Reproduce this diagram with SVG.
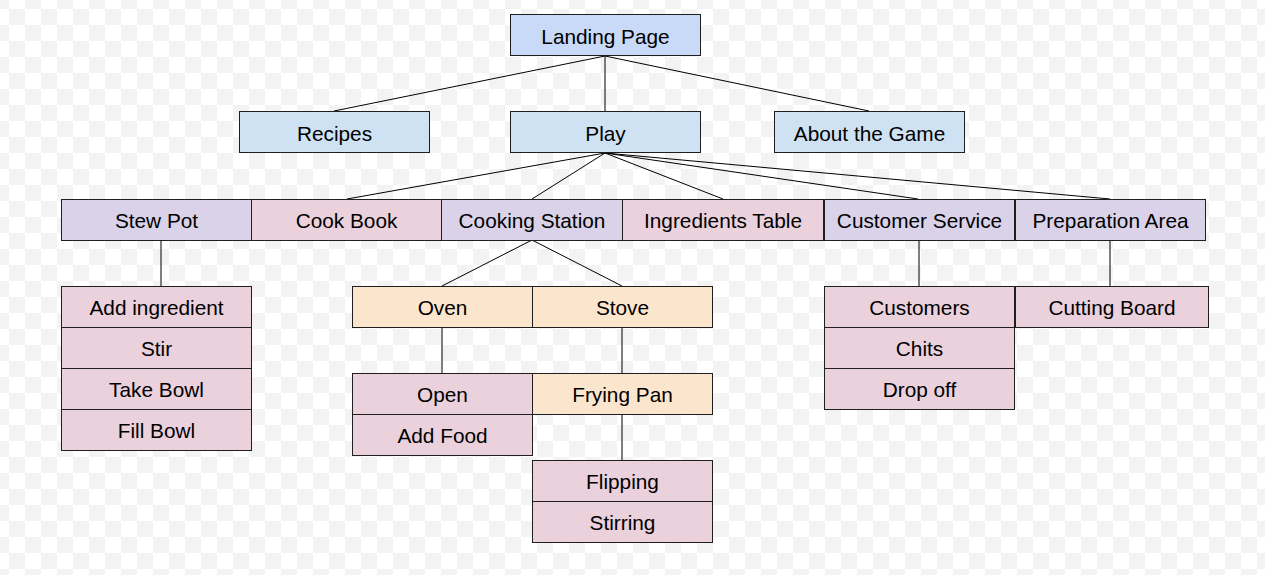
<svg xmlns="http://www.w3.org/2000/svg" width="1265" height="575" viewBox="0 0 1265 575">
<defs>
<pattern id="chk" x="9" y="9" width="32" height="32" patternUnits="userSpaceOnUse">
<rect x="0" y="0" width="32" height="32" fill="#ffffff"/>
<rect x="0" y="0" width="16" height="16" fill="#f3f3f3"/>
<rect x="16" y="16" width="16" height="16" fill="#f3f3f3"/>
</pattern>
</defs>
<style>
.n rect{stroke:#1f1f1f;stroke-width:1}
.n text{font-family:"Liberation Sans",Arial,sans-serif;font-size:20.8px;fill:#000;text-anchor:middle;dominant-baseline:central}
.b1{fill:#c9daf8}.b2{fill:#cfe2f3}.pu{fill:#d9d2e9}.pk{fill:#ead1dc}.or{fill:#fce5cd}
#edges line{stroke:#000;stroke-width:1}
</style>
<rect width="1265" height="575" fill="url(#chk)"/>
<g id="edges">
<line x1="605" y1="56" x2="334" y2="111"/>
<line x1="605" y1="56" x2="605" y2="111"/>
<line x1="605" y1="56" x2="869" y2="111"/>
<line x1="605" y1="153" x2="347" y2="199"/>
<line x1="605" y1="153" x2="532" y2="199"/>
<line x1="605" y1="153" x2="723" y2="199"/>
<line x1="605" y1="153" x2="918" y2="199"/>
<line x1="605" y1="153" x2="1110" y2="199"/>
<line x1="161" y1="240" x2="161" y2="286"/>
<line x1="532" y1="240" x2="442" y2="286"/>
<line x1="532" y1="240" x2="622" y2="286"/>
<line x1="442" y1="327" x2="442" y2="373"/>
<line x1="622" y1="327" x2="622" y2="373"/>
<line x1="622" y1="414" x2="622" y2="460"/>
<line x1="919" y1="240" x2="919" y2="286"/>
<line x1="1110" y1="240" x2="1110" y2="286"/>
</g>
<g id="landing" class="n"><rect class="b1" x="510.5" y="14.5" width="190" height="41"/><text x="605.5" y="36">Landing Page</text></g>
<g id="recipes" class="n"><rect class="b2" x="239.5" y="111.5" width="190" height="41"/><text x="334.5" y="133">Recipes</text></g>
<g id="play" class="n"><rect class="b2" x="510.5" y="111.5" width="190" height="41"/><text x="605.5" y="133">Play</text></g>
<g id="about" class="n"><rect class="b2" x="774.5" y="111.5" width="190" height="41"/><text x="869.5" y="133">About the Game</text></g>
<g id="stewpot" class="n"><rect class="pu" x="61.5" y="199.5" width="190" height="41"/><text x="156.5" y="220">Stew Pot</text></g>
<g id="cookbook" class="n"><rect class="pk" x="251.5" y="199.5" width="190" height="41"/><text x="346.5" y="220">Cook Book</text></g>
<g id="cookingstation" class="n"><rect class="pu" x="441.5" y="199.5" width="181" height="41"/><text x="532" y="220">Cooking Station</text></g>
<g id="ingredients" class="n"><rect class="pk" x="622.5" y="199.5" width="201" height="41"/><text x="723" y="220">Ingredients Table</text></g>
<g id="customerservice" class="n"><rect class="pu" x="824.5" y="199.5" width="190" height="41"/><text x="919.5" y="220">Customer Service</text></g>
<g id="preparation" class="n"><rect class="pu" x="1015.5" y="199.5" width="190" height="41"/><text x="1110.5" y="220">Preparation Area</text></g>
<g id="addingredient" class="n"><rect class="pk" x="61.5" y="286.5" width="190" height="41"/><text x="156.5" y="307">Add ingredient</text></g>
<g id="stir" class="n"><rect class="pk" x="61.5" y="327.5" width="190" height="41"/><text x="156.5" y="348">Stir</text></g>
<g id="takebowl" class="n"><rect class="pk" x="61.5" y="368.5" width="190" height="41"/><text x="156.5" y="389">Take Bowl</text></g>
<g id="fillbowl" class="n"><rect class="pk" x="61.5" y="409.5" width="190" height="41"/><text x="156.5" y="430">Fill Bowl</text></g>
<g id="oven" class="n"><rect class="or" x="352.5" y="286.5" width="180" height="41"/><text x="442.5" y="307">Oven</text></g>
<g id="stove" class="n"><rect class="or" x="532.5" y="286.5" width="180" height="41"/><text x="622.5" y="307">Stove</text></g>
<g id="open" class="n"><rect class="pk" x="352.5" y="373.5" width="180" height="41"/><text x="442.5" y="394">Open</text></g>
<g id="addfood" class="n"><rect class="pk" x="352.5" y="414.5" width="180" height="41"/><text x="442.5" y="435">Add Food</text></g>
<g id="fryingpan" class="n"><rect class="or" x="532.5" y="373.5" width="180" height="41"/><text x="622.5" y="394">Frying Pan</text></g>
<g id="flipping" class="n"><rect class="pk" x="532.5" y="460.5" width="180" height="41"/><text x="622.5" y="481">Flipping</text></g>
<g id="stirring" class="n"><rect class="pk" x="532.5" y="501.5" width="180" height="41"/><text x="622.5" y="522">Stirring</text></g>
<g id="customers" class="n"><rect class="pk" x="824.5" y="286.5" width="190" height="41"/><text x="919.5" y="307">Customers</text></g>
<g id="chits" class="n"><rect class="pk" x="824.5" y="327.5" width="190" height="41"/><text x="919.5" y="348">Chits</text></g>
<g id="dropoff" class="n"><rect class="pk" x="824.5" y="368.5" width="190" height="41"/><text x="919.5" y="389">Drop off</text></g>
<g id="cuttingboard" class="n"><rect class="pk" x="1015.5" y="286.5" width="193" height="41"/><text x="1112" y="307">Cutting Board</text></g>
</svg>
